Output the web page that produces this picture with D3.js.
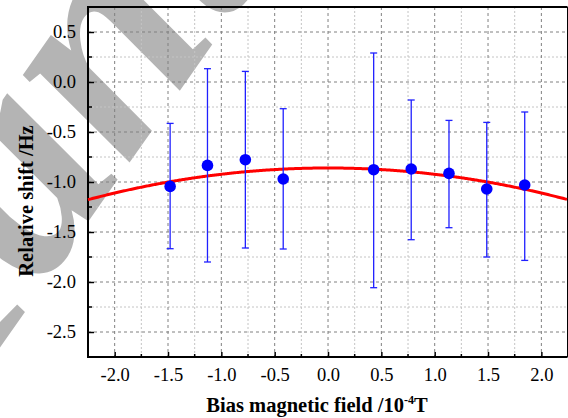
<!DOCTYPE html>
<html>
<head>
<meta charset="utf-8">
<script src="https://cdn.jsdelivr.net/npm/d3@7"></script>
<style>
  html, body { margin: 0; padding: 0; background: #fff; }
  svg { display: block; }
  svg text { font-family: "Liberation Serif", Tinos, "Times New Roman", Times, serif; }
</style>
</head>
<body>
<svg id="chart" width="568" height="418"></svg>
<script>
// Measured bias field (10^-4 T) and relative frequency shift (Hz)
const fieldValues = [-1.48, -1.13, -0.775, -0.42, 0.428, 0.78, 1.134, 1.488, 1.844];
const shiftValues = [-1.044, -0.834, -0.777, -0.97, -0.877, -0.87, -0.914, -1.07, -1.03];
const errUpper    = [-0.414, 0.133, 0.106, -0.267, 0.29, -0.18, -0.384, -0.404, -0.30];
const errLower    = [-1.667, -1.80, -1.66, -1.67, -2.057, -1.577, -1.457, -1.75, -1.784];

// Quadratic fit: shift = c0 + c1*B + c2*B^2
const fitCoeffs = [-0.86, 0.0, -0.0626];

const xTickValues = [-2.0, -1.5, -1.0, -0.5, 0.0, 0.5, 1.0, 1.5, 2.0];
const yTickValues = [0.5, 0.0, -0.5, -1.0, -1.5, -2.0, -2.5];
const xMinorValues = [-2.25, -1.75, -1.25, -0.75, -0.25, 0.25, 0.75, 1.25, 1.75, 2.25];
const yMinorValues = [0.75, 0.25, -0.25, -0.75, -1.25, -1.75, -2.25, -2.75];

const FONT = '"Liberation Serif", Tinos, "Times New Roman", Times, serif';

const svg = d3.select("#chart");
const L = 88, R = 567.5, T = 7, B = 357;

const x = d3.scaleLinear().domain([-2.25, 2.245]).range([L, R]);
const y = d3.scaleLinear().domain([-2.75, 0.75]).range([B, T]);

// Watermark lettering behind the plot
svg.append("text")
  .attr("transform", "translate(-113,509) rotate(-55)")
  .style("font-family", FONT)
  .attr("font-size", 300)
  .attr("font-style", "italic")
  .attr("font-weight", "bold")
  .attr("fill", "#b4b4b4")
  .text("Manuscript");

// Grid: dotted minor lines, dashed major lines
const grid = svg.append("g");
grid.selectAll(".gxm").data(xMinorValues.filter(v => x(v) > L + 1 && x(v) < R - 1)).join("line")
  .attr("x1", d => x(d)).attr("x2", d => x(d)).attr("y1", T).attr("y2", B)
  .attr("stroke", "#c4c4c4").attr("stroke-width", 1).attr("stroke-dasharray", "2,2");
grid.selectAll(".gym").data(yMinorValues.filter(v => y(v) > T + 1 && y(v) < B - 1)).join("line")
  .attr("y1", d => y(d)).attr("y2", d => y(d)).attr("x1", L).attr("x2", R)
  .attr("stroke", "#c4c4c4").attr("stroke-width", 1).attr("stroke-dasharray", "2,2");
grid.selectAll(".gx").data(xTickValues).join("line")
  .attr("x1", d => x(d)).attr("x2", d => x(d)).attr("y1", T).attr("y2", B)
  .attr("stroke", "#808080").attr("stroke-width", 1).attr("stroke-dasharray", "3,3");
grid.selectAll(".gy").data(yTickValues).join("line")
  .attr("y1", d => y(d)).attr("y2", d => y(d)).attr("x1", L).attr("x2", R)
  .attr("stroke", "#808080").attr("stroke-width", 1).attr("stroke-dasharray", "3,3");

// Axes with inward ticks
const fmt = d3.format(".1f");
const xAxis = d3.axisBottom(x).tickValues(xTickValues).tickSize(-5).tickPadding(11)
  .tickFormat(d => fmt(d).replace("−", "-"));
const yAxis = d3.axisLeft(y).tickValues(yTickValues).tickSize(-6).tickPadding(12)
  .tickFormat(d => fmt(d).replace("−", "-"));

const gx = svg.append("g").attr("transform", `translate(0,${B})`).call(xAxis);
const gy = svg.append("g").attr("transform", `translate(${L},0)`).call(yAxis);
[gx, gy].forEach(g => {
  g.attr("font-family", null);
  g.select(".domain").remove();
  g.selectAll(".tick line").attr("stroke", "#000").attr("stroke-width", 1.5);
  g.selectAll(".tick text").attr("font-size", 18.5).attr("fill", "#000")
    .style("font-family", FONT);
});

// Minor ticks
svg.append("g").selectAll("line").data(xMinorValues).join("line")
  .attr("x1", d => x(d)).attr("x2", d => x(d)).attr("y1", B).attr("y2", B - 3)
  .attr("stroke", "#000").attr("stroke-width", 1.5);
svg.append("g").selectAll("line").data(yMinorValues).join("line")
  .attr("y1", d => y(d)).attr("y2", d => y(d)).attr("x1", L).attr("x2", L + 4)
  .attr("stroke", "#000").attr("stroke-width", 1.5);

// Frame
svg.append("line").attr("x1", L).attr("x2", R).attr("y1", T).attr("y2", T)
  .attr("stroke", "#000").attr("stroke-width", 2);
svg.append("line").attr("x1", R).attr("x2", R).attr("y1", T).attr("y2", B)
  .attr("stroke", "#000").attr("stroke-width", 1);
svg.append("line").attr("x1", L).attr("x2", L).attr("y1", T - 1).attr("y2", B + 1)
  .attr("stroke", "#000").attr("stroke-width", 2);
svg.append("line").attr("x1", L - 1).attr("x2", R).attr("y1", B).attr("y2", B)
  .attr("stroke", "#000").attr("stroke-width", 2);

// Fit curve
const plot = svg.append("g");
const fitX = d3.range(-2.25, 2.2451, 0.01);
const fitLine = d3.line()
  .x(d => x(d))
  .y(d => y(fitCoeffs[0] + fitCoeffs[1] * d + fitCoeffs[2] * d * d));
plot.append("path").datum(fitX).attr("d", fitLine)
  .attr("fill", "none").attr("stroke", "#ff0000").attr("stroke-width", 3);

// Error bars
const pts = fieldValues.map((v, i) => ({ b: v, s: shiftValues[i], hi: errUpper[i], lo: errLower[i] }));
const eb = plot.selectAll(".eb").data(pts).join("g").attr("stroke", "#2020ff").attr("stroke-width", 1.3);
eb.append("line").attr("x1", d => x(d.b)).attr("x2", d => x(d.b)).attr("y1", d => y(d.hi)).attr("y2", d => y(d.lo));
eb.append("line").attr("x1", d => x(d.b) - 3.5).attr("x2", d => x(d.b) + 3.5).attr("y1", d => y(d.hi)).attr("y2", d => y(d.hi));
eb.append("line").attr("x1", d => x(d.b) - 3.5).attr("x2", d => x(d.b) + 3.5).attr("y1", d => y(d.lo)).attr("y2", d => y(d.lo));

// Data points
plot.selectAll(".pt").data(pts).join("circle")
  .attr("cx", d => x(d.b)).attr("cy", d => y(d.s)).attr("r", 5.8).attr("fill", "#0000ff");

// Axis titles
const xt = svg.append("text").attr("x", 317).attr("y", 412).attr("text-anchor", "middle")
  .style("font-family", FONT)
  .attr("font-size", 20.5).attr("font-weight", "bold").attr("fill", "#000");
xt.append("tspan").text("Bias magnetic field /10");
xt.append("tspan").attr("dy", -8).attr("font-size", 12).text("-4");
xt.append("tspan").attr("dy", 8).text("T");

svg.append("text").attr("transform", "translate(33,201) rotate(-90)").attr("text-anchor", "middle")
  .style("font-family", FONT)
  .attr("font-size", 20.5).attr("font-weight", "bold").attr("fill", "#000")
  .text("Relative shift /Hz");
</script>
</body>
</html>
